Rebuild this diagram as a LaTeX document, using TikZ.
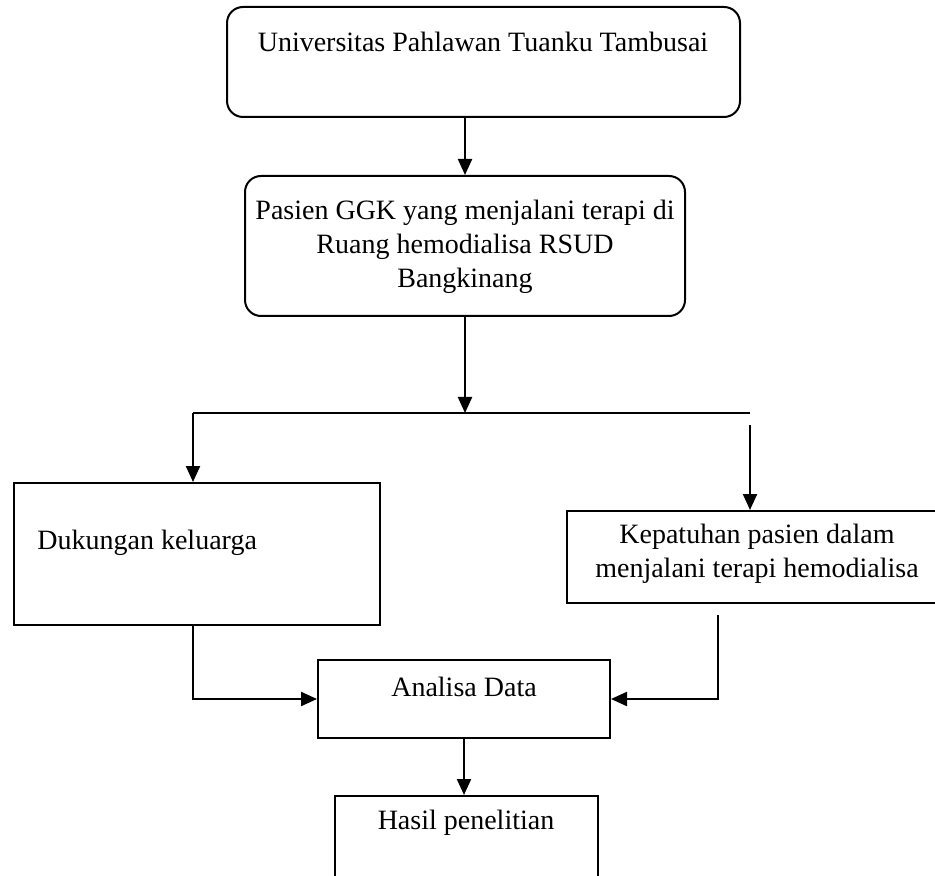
\documentclass[tikz,border=0pt]{standalone}
\usepackage{fontspec}
\setmainfont{Liberation Serif}
\usetikzlibrary{arrows.meta}
\begin{document}
\begin{tikzpicture}[x=0.5pt,y=-0.5pt,
  box/.style={draw,line width=1pt,minimum width=#1,inner sep=0pt},
  rbox/.style={box=#1,rounded corners=8pt},
  txt/.style={inner sep=0pt,font=\fontsize{14}{17}\selectfont,align=center},
  arr/.style={line width=1.1pt,-{Triangle[length=8pt,width=7pt]}},
  ln/.style={line width=1.1pt}]
\useasboundingbox (0,0) rectangle (935,876);
\clip (0,0) rectangle (935,876);
% boxes
\node[rbox=256.5pt,minimum height=55pt] (top) at (483.5,62) {};
\node[rbox=220pt,minimum height=70pt] (pas) at (465,246) {};
\node[box=183pt,minimum height=71pt] (duk) at (197,554) {};
\node[box=189pt,minimum height=46pt] (kep) at (756,557) {};
\node[box=146pt,minimum height=39pt] (ana) at (464,699) {};
\node[box=131.5pt,minimum height=47pt] (has) at (466.5,843) {};
% texts
\node[txt] (ttop) at (483,42) {Universitas Pahlawan Tuanku Tambusai};
\node[txt] (tpas) at (465,247) {Pasien GGK yang menjalani terapi di\\Ruang hemodialisa RSUD\\Bangkinang};
\node[txt,anchor=west] (tduk) at (37,543) {Dukungan keluarga};
\node[txt] (tkep) at (757,554) {Kepatuhan pasien dalam\\menjalani terapi hemodialisa};
\node[txt] (tana) at (464,687) {Analisa Data};
\node[txt] (thas) at (466,823) {Hasil penelitian};
% connectors
\coordinate (hl) at (193,413);
\coordinate (hm) at (465,413);
\coordinate (hr) at (750,413);
\coordinate (rt) at (750,425);
\coordinate (lb) at (193,625);
\coordinate (rb) at (718,615);
\draw[arr] (pas.north |- top.south) -- (pas.north);
\draw[arr] (pas.south) -- (hm);
\draw[ln] (hl) -- (hr);
\draw[arr] (hl) -- (hl |- duk.north);
\draw[arr] (rt) -- (rt |- kep.north);
\draw[arr] (lb) |- (ana.west);
\draw[arr] (rb) |- (ana.east);
\draw[arr] (ana.south) -- (ana.south |- has.north);
\end{tikzpicture}
\end{document}
